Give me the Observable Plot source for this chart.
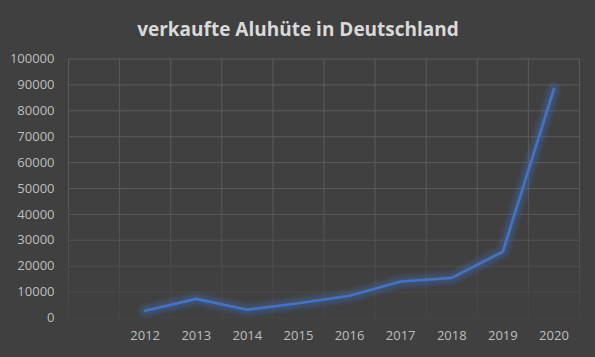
<!DOCTYPE html>
<html><head><meta charset="utf-8">
<script src="https://cdn.jsdelivr.net/npm/d3@7"></script>
<script src="https://cdn.jsdelivr.net/npm/@observablehq/plot@0.6"></script>
<style>
html,body{margin:0;padding:0;background:#404040;overflow:hidden;}
</style></head><body><div id="chart"></div>
<script>
const title = "verkaufte Aluhüte in Deutschland";
const categories = ["", "2012", "2013", "2014", "2015", "2016", "2017", "2018", "2019", "2020"];
const years = ["2012", "2013", "2014", "2015", "2016", "2017", "2018", "2019", "2020"];
const sales = [2800, 7400, 3200, 5700, 8600, 14100, 15500, 25600, 88500];
const yTicks = [0, 10000, 20000, 30000, 40000, 50000, 60000, 70000, 80000, 90000, 100000];

const data = years.map((y, i) => ({pos: categories.indexOf(y) + 0.5, value: sales[i]}));
const bounds = d3.range(categories.length + 1);
const tickPos = categories.map((c, i) => i + 0.5);
const glowWidths = [16, 12, 9, 6];

const chart = Plot.plot({
  width: 595,
  height: 357,
  marginLeft: 68,
  marginRight: 16,
  marginTop: 58.5,
  marginBottom: 39.5,
  style: {background: "#404040", color: "#bfbfbf", fontFamily: "'Open Sans', sans-serif", fontSize: "13px"},
  x: {domain: [0, categories.length], axis: null, label: null},
  y: {domain: [0, 100000], axis: null, label: null},
  marks: [
    Plot.ruleY(yTicks, {stroke: "url(#gridGrad)", strokeWidth: 1}),
    Plot.ruleX(bounds, {stroke: "url(#gridGrad)", strokeWidth: 1}),
    ...glowWidths.map(w => Plot.line(data, {x: "pos", y: "value", stroke: "#4472C4", strokeWidth: w, strokeOpacity: 0.1})),
    Plot.line(data, {x: "pos", y: "value", stroke: "#4472C4", strokeWidth: 2.7}),
    Plot.axisY(yTicks, {tickSize: 0, tickPadding: 14, fontSize: 13, color: "#bfbfbf", label: null, tickFormat: d => String(d)}),
    Plot.axisX(tickPos, {tickSize: 0, tickPadding: 13, fontSize: 13, color: "#bfbfbf", label: null, tickFormat: d => categories[Math.floor(d)]}),
    Plot.text([title], {frameAnchor: "top", dx: -26, dy: -36.5, text: d => d, fontSize: 19, fontWeight: "bold", fill: "#d9d9d9"})
  ]
});

const svg = d3.select(chart);
const defs = svg.insert("defs", ":first-child");
const g = defs.append("linearGradient").attr("id", "gridGrad").attr("gradientUnits", "userSpaceOnUse")
  .attr("x1", 0).attr("x2", 0).attr("y1", 190).attr("y2", 322);
g.append("stop").attr("offset", 0).attr("stop-color", "#5a5a5a");
g.append("stop").attr("offset", 1).attr("stop-color", "#444444");

document.getElementById("chart").appendChild(chart);
</script></body></html>
